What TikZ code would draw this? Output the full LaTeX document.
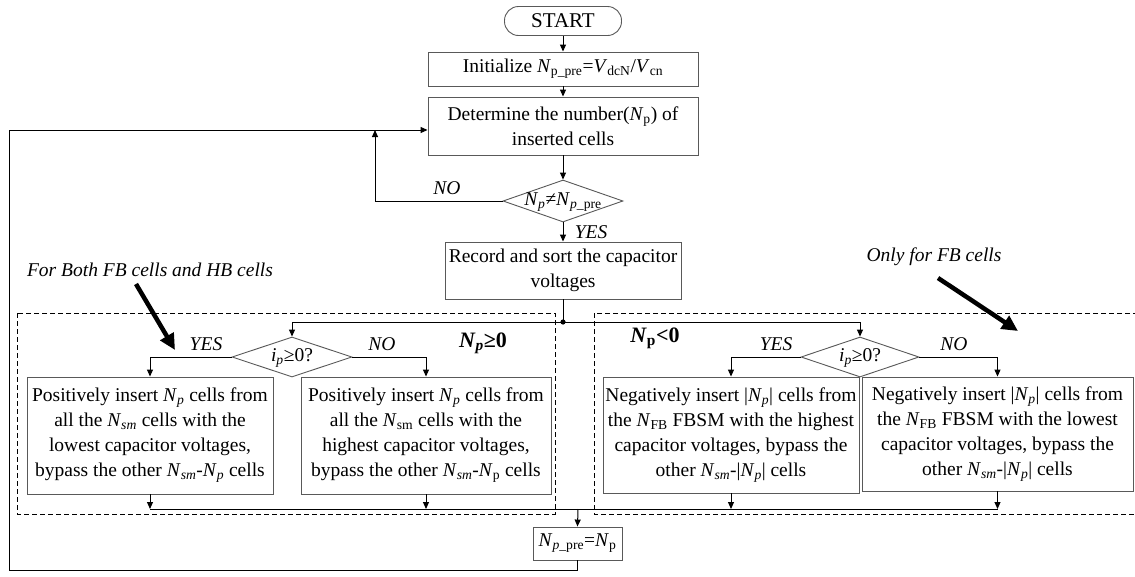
\documentclass[tikz,border=0pt]{standalone}
\usepackage{fontspec}
\setmainfont{Liberation Serif}
\usetikzlibrary{arrows.meta,shapes.geometric}
\newcommand\Sb[1]{\textsubscript{#1}}
\newcommand\vN{\textit{N}}
\tikzset{
  every node/.style={font=\fontsize{19.5}{25}\selectfont},
  procbox/.style={draw=black!65, line width=0.9pt, fill=white, align=center, inner sep=2pt},
  decbox/.style={diamond, draw=black!65, line width=0.9pt, fill=white, inner sep=0pt},
  conn/.style={line width=1pt, black},
  arr/.style={conn, -{Triangle[length=7pt,width=6pt]}},
  lbl/.style={font=\fontsize{19.5}{22}\selectfont\itshape},
  bigarr/.style={line width=4.5pt, -{Triangle[length=16pt,width=15pt]}},
  region/.style={draw=black, line width=0.9pt, dash pattern=on 5pt off 3pt}
}
\begin{document}
\begin{tikzpicture}[x=1pt,y=-1pt]
\clip (0,0) rectangle (1135,576);
\fill[white] (0,0) rectangle (1135,576);

% dashed regions
\draw[region] (17,313) rectangle (555,514);
\draw[region] (594,313) rectangle (1145,514);

% nodes
\node[procbox, rounded corners=14pt, minimum width=117pt, minimum height=29pt, font=\fontsize{21}{24}\selectfont] (start) at (563,21) {START};
\node[procbox, minimum width=270pt, minimum height=34pt] (init) at (563,69) {Initialize \vN\Sb{p\_pre}=\textit{V}\Sb{dcN}/\textit{V}\Sb{cn}};
\node[procbox, minimum width=270pt, minimum height=58pt] (det) at (563,126) {Determine the number(\vN\Sb{p}) of\\inserted cells};
\node[decbox, minimum width=120pt, minimum height=42pt] (d1) at (563,201) {};
\node[inner sep=0pt] (d1t) at (563,202) {\vN\Sb{\textit{p}}≠\vN\Sb{\textit{p}\_pre}};
\node[procbox, minimum width=236pt, minimum height=57pt] (rec) at (563,270.5) {Record and sort the capacitor\\voltages};
\coordinate (dot) at (563,322);

\node[decbox, minimum width=120pt, minimum height=40pt] (L) at (292,357) {};
\node[inner sep=0pt] (Lt) at (292,358) {\textit{i}\Sb{\textit{p}}≥0?};
\node[decbox, minimum width=118pt, minimum height=40pt] (R) at (860,357) {};
\node[inner sep=0pt] (Rt) at (860,358) {\textit{i}\Sb{\textit{p}}≥0?};

\node[procbox, minimum width=246pt, minimum height=117pt] (A) at (150,435.5) {Positively insert \vN\Sb{\textit{p}} cells from\\all the \vN\Sb{\textit{sm}} cells with the\\lowest capacitor voltages,\\bypass the other \vN\Sb{\textit{sm}}-\vN\Sb{\textit{p}} cells};
\node[procbox, minimum width=250pt, minimum height=117pt] (B) at (426,435.5) {Positively insert \vN\Sb{\textit{p}} cells from\\all the \vN\Sb{sm} cells with the\\highest capacitor voltages,\\bypass the other \vN\Sb{\textit{sm}}-\vN\Sb{p} cells};
\node[procbox, minimum width=256pt, minimum height=116pt] (C) at (731,435) {Negatively insert |\vN\Sb{\textit{p}}| cells from\\the \vN\Sb{FB} FBSM with the highest\\capacitor voltages, bypass the\\other \vN\Sb{\textit{sm}}-|\vN\Sb{\textit{p}}| cells};
\node[procbox, minimum width=271pt, minimum height=114pt] (D) at (997.5,434) {Negatively insert |\vN\Sb{\textit{p}}| cells from\\the \vN\Sb{FB} FBSM with the lowest\\capacitor voltages, bypass the\\other \vN\Sb{\textit{sm}}-|\vN\Sb{\textit{p}}| cells};

\node[procbox, minimum width=89pt, minimum height=33pt] (P) at (577.5,543.5) {\vN\Sb{\textit{p}\_pre}=\vN\Sb{p}};
\coordinate (j) at (578,509);
\coordinate (lp) at (9,570);
\coordinate (lpt) at (9,130);
\coordinate (nl) at (375,130);

% labels
\node[lbl] (no1) at (447,188) {NO};
\node[lbl] (yes1) at (591,232) {YES};
\node[lbl] (yesL) at (206,344) {YES};
\node[lbl] (noL) at (382,344) {NO};
\node[lbl] (yesR) at (776,344) {YES};
\node[lbl] (noR) at (954,344) {NO};
\node[font=\fontsize{22}{24}\selectfont\bfseries] (ge) at (483,343) {\vN\Sb{\textit{p}}≥0};
\node[font=\fontsize{22}{24}\selectfont\bfseries] (lt) at (655,338) {\vN\Sb{p}<0};
\node[lbl] (forboth) at (150,270) {For Both FB cells and HB cells};
\node[lbl] (onlyfb) at (934,257) {Only for FB cells};

% connectors
\draw[arr] (start) -- (init);
\draw[arr] (init) -- (det);
\draw[arr] (det) -- (d1);
\draw[arr] (d1) -- (rec);
\draw[arr] (d1.west) -| (nl);
\draw[conn] (rec.south) -- (dot);
\fill (dot) circle (2.6pt);
\draw[arr] (dot) -| (L.north);
\draw[arr] (dot) -| (R.north);
\draw[arr] (L.west) -| (A.north);
\draw[arr] (L.east) -| (B.north);
\draw[arr] (R.west) -| (C.north);
\draw[arr] (R.east) -| (D.north);
\draw[arr] (A.south) -- (A.south |- j);
\draw[arr] (B.south) -- (B.south |- j);
\draw[arr] (C.south) -- (C.south |- j);
\draw[arr] (D.south) -- (D.south |- j);
\draw[conn] (A.south |- j) -- (D.south |- j);
\draw[arr] (j) -- (P.north);
\draw[arr] (P.south) |- (lp) -- (lpt) -- (lpt -| det.west);

% big arrows
\coordinate (ba1) at (136,284);
\coordinate (ba1e) at (175,350);
\coordinate (ba2) at (938,278);
\coordinate (ba2e) at (1018,331);
\draw[bigarr] (ba1) -- (ba1e);
\draw[bigarr] (ba2) -- (ba2e);
\end{tikzpicture}
\end{document}
